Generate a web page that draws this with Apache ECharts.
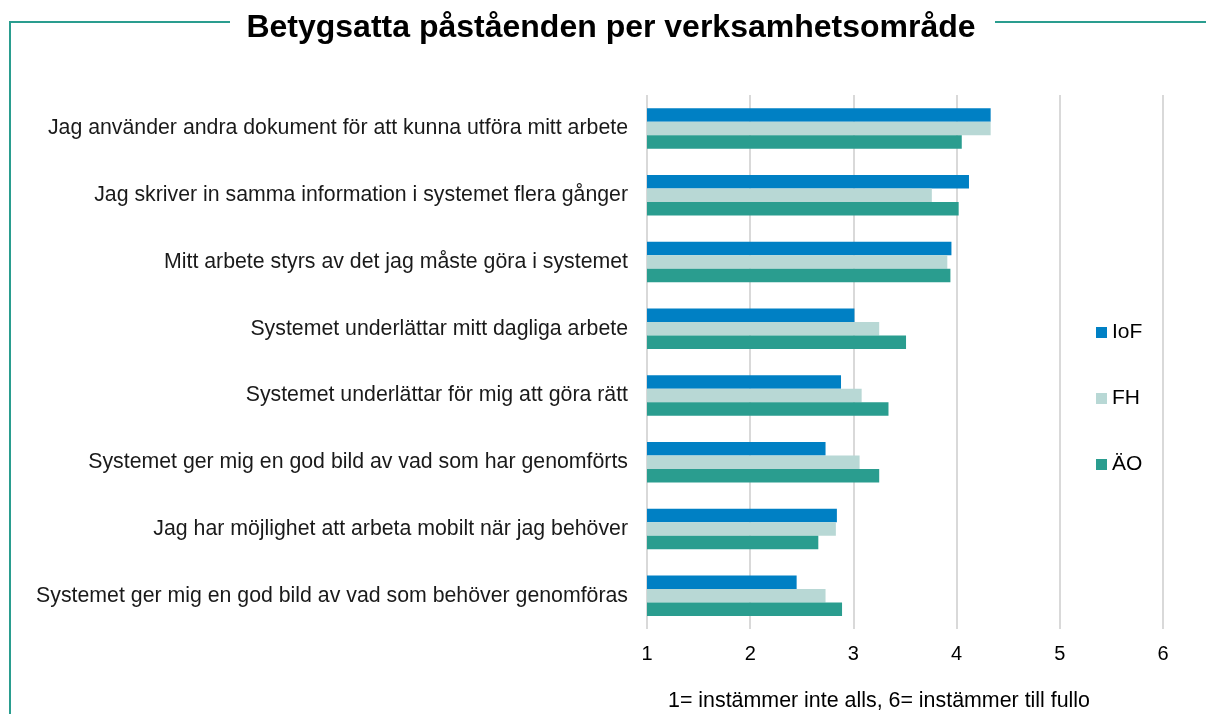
<!DOCTYPE html>
<html>
<head>
<meta charset="utf-8">
<script src="https://cdn.jsdelivr.net/npm/echarts@6/dist/echarts.min.js"></script>
<style>
  html, body { margin: 0; padding: 0; background: #fff; }
  #chart { width: 1206px; height: 714px; }
</style>
</head>
<body>
<div id="chart"></div>
<script>
// påståenden, uppifrån och ned
var categories = [
    'Jag använder andra dokument för att kunna utföra mitt arbete',
    'Jag skriver in samma information i systemet flera gånger',
    'Mitt arbete styrs av det jag måste göra i systemet',
    'Systemet underlättar mitt dagliga arbete',
    'Systemet underlättar för mig att göra rätt',
    'Systemet ger mig en god bild av vad som har genomförts',
    'Jag har möjlighet att arbeta mobilt när jag behöver',
    'Systemet ger mig en god bild av vad som behöver genomföras'
];
var iofValues = [4.33, 4.12, 3.95, 3.01, 2.88, 2.73, 2.84, 2.45];
var fhValues  = [4.33, 3.76, 3.91, 3.25, 3.08, 3.06, 2.83, 2.73];
var aoValues  = [4.05, 4.02, 3.94, 3.51, 3.34, 3.25, 2.66, 2.89];
var xTicks = [1, 2, 3, 4, 5, 6];

var teal = '#2a9d8f';
var font = 'Liberation Sans, Arial, sans-serif';

var myChart = echarts.init(document.getElementById('chart'));
myChart.setOption({
    animation: false,
    textStyle: { fontFamily: font },
    title: [{
        text: 'Betygsatta påståenden per verksamhetsområde',
        left: 606,
        top: 7,
        textAlign: 'center',
        textStyle: { fontSize: 32, fontWeight: 'bold', color: '#000', fontFamily: font }
    }, {
        text: '1= instämmer inte alls, 6= instämmer till fullo',
        left: 874,
        top: 686,
        textAlign: 'center',
        textStyle: { fontSize: 21.4, fontWeight: 'normal', color: '#000', fontFamily: font }
    }],
    legend: {
        orient: 'vertical',
        left: 1091,
        top: 317,
        itemWidth: 11,
        itemHeight: 11,
        itemGap: 45,
        icon: 'rect',
        textStyle: { fontSize: 21, color: '#000', fontFamily: font },
        data: ['IoF', 'FH', 'ÄO']
    },
    grid: {
        left: 647,
        right: 43,
        top: 95,
        bottom: 85
    },
    xAxis: {
        type: 'value',
        min: 1,
        max: 6,
        interval: 1,
        axisLine: { show: false },
        axisTick: { show: false },
        axisLabel: {
            fontSize: 20, color: '#000', margin: 15,
            formatter: function (v) { return xTicks.indexOf(v) >= 0 ? String(v) : ''; }
        },
        splitLine: { lineStyle: { color: '#d9d9d9', width: 2 } }
    },
    yAxis: {
        type: 'category',
        inverse: true,
        data: categories,
        axisLine: { show: false },
        axisTick: { show: false },
        axisLabel: { fontSize: 21.3, color: '#1a1a1a', margin: 19 }
    },
    series: [{
        name: 'IoF',
        type: 'bar',
        barWidth: 13.5,
        barGap: '0%',
        itemStyle: { color: '#0080c4' },
        data: iofValues
    }, {
        name: 'FH',
        type: 'bar',
        barWidth: 13.5,
        barGap: '0%',
        itemStyle: { color: '#b8d8d5' },
        data: fhValues
    }, {
        name: 'ÄO',
        type: 'bar',
        barWidth: 13.5,
        barGap: '0%',
        itemStyle: { color: teal },
        data: aoValues
    }],
    graphic: [{
        type: 'polyline',
        shape: { points: [[10, 714], [10, 22], [230, 22]] },
        style: { stroke: teal, lineWidth: 2, fill: null }
    }, {
        type: 'line',
        shape: { x1: 995, y1: 22, x2: 1206, y2: 22 },
        style: { stroke: teal, lineWidth: 2 }
    }]
});
</script>
</body>
</html>
